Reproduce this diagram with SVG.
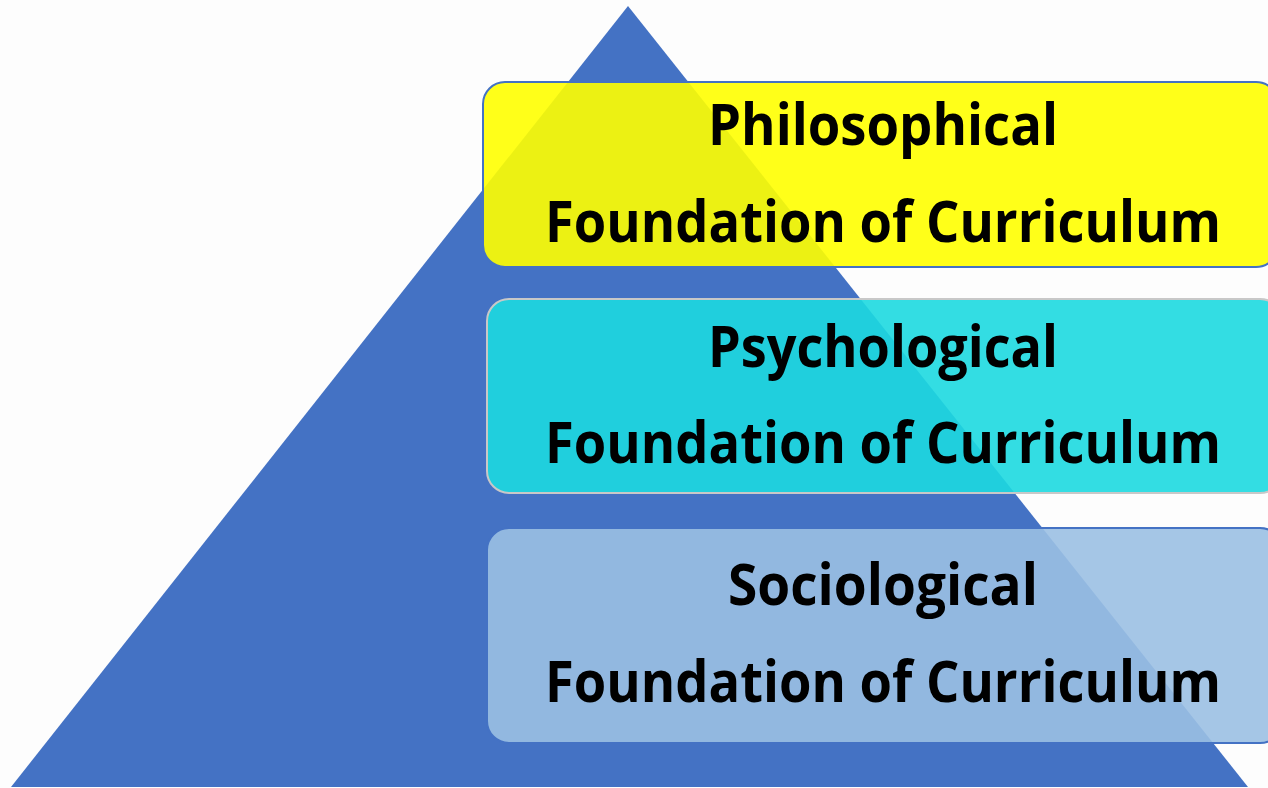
<svg xmlns="http://www.w3.org/2000/svg" width="1268" height="788" viewBox="0 0 1268 788">
<style>
.lbl{font-family:"Open Sans","Liberation Sans",sans-serif;font-weight:bold;font-size:58px;fill:#000;text-anchor:middle}
.box{stroke-width:2;opacity:1}
</style>
<rect x="0" y="0" width="1268" height="788" fill="#fdfdfd"/>
<g id="pyramid">
<polygon points="628,6 11,787 1248,787" fill="#4472C4"/>
</g>
<g id="philosophical">
<rect class="box" x="483" y="82" width="795" height="185" rx="22" fill="#FFFF00" fill-opacity="0.9" stroke="#4472C4"/>
<text class="lbl" x="883" y="145" textLength="350" lengthAdjust="spacingAndGlyphs">Philosophical</text>
<text class="lbl" x="883" y="242" textLength="676" lengthAdjust="spacingAndGlyphs">Foundation of Curriculum</text>
</g>
<g id="psychological">
<rect class="box" x="487" y="299" width="795" height="194" rx="22" fill="#1DD9E0" fill-opacity="0.9" stroke="#C8C8C8"/>
<text class="lbl" x="883" y="367" textLength="350" lengthAdjust="spacingAndGlyphs">Psychological</text>
<text class="lbl" x="883" y="463" textLength="676" lengthAdjust="spacingAndGlyphs">Foundation of Curriculum</text>
</g>
<g id="sociological">
<rect class="box" x="487" y="528" width="795" height="215" rx="22" fill="#9BC0E3" fill-opacity="0.9" stroke="#4472C4"/>
<text class="lbl" x="883" y="605" textLength="310" lengthAdjust="spacingAndGlyphs">Sociological</text>
<text class="lbl" x="883" y="702" textLength="676" lengthAdjust="spacingAndGlyphs">Foundation of Curriculum</text>
</g>
<g id="connectors"></g>
</svg>
